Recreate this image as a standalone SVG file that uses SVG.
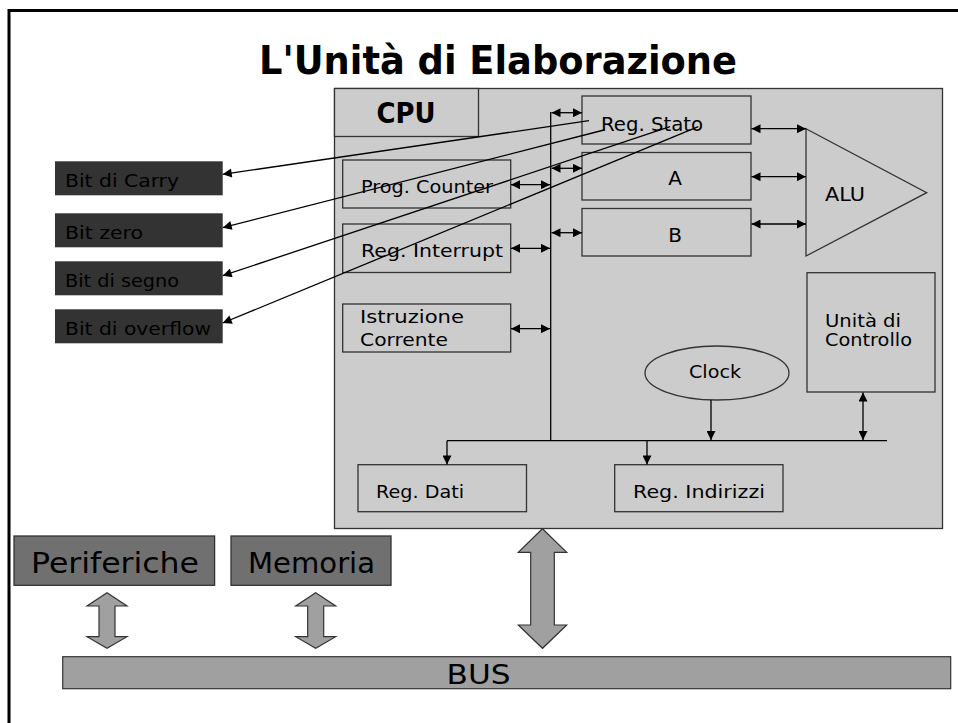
<svg xmlns="http://www.w3.org/2000/svg" width="958" height="723" viewBox="0 0 958 723">
<defs>
<style>
text{font-family:"DejaVu Sans","Liberation Sans",sans-serif;fill:#000;}
.box{fill:#cccccc;stroke:#333;stroke-width:1.3;}
.bit{fill:#333333;stroke:none;}
.ext{fill:#707070;stroke:#333;stroke-width:1.3;}
.big{fill:#a0a0a0;stroke:#333;stroke-width:1.2;}
.ln{stroke:#000;stroke-width:1.3;fill:none;}
.da{marker-start:url(#ah);marker-end:url(#ah);}
.sa{marker-end:url(#ah);}
.t{font-size:18px;}
</style>
<marker id="ah" viewBox="0 0 10 10" refX="10" refY="5" markerWidth="10" markerHeight="9" markerUnits="userSpaceOnUse" orient="auto-start-reverse">
<path d="M0,0 L10,5 L0,10 z" fill="#000"/>
</marker>
</defs>
<rect x="0" y="0" width="958" height="723" fill="#fff"/>
<rect x="9" y="10.5" width="970" height="730" fill="none" stroke="#000" stroke-width="3"/>
<text x="498" y="74" font-size="39" font-weight="bold" text-anchor="middle" textLength="478" lengthAdjust="spacingAndGlyphs">L'Unità di Elaborazione</text>

<g id="cpu">
<rect x="334.5" y="88.5" width="608" height="440" class="box"/>
<rect x="334.5" y="88.5" width="144" height="48" class="box"/>
<text x="406" y="123" font-size="28" font-weight="bold" text-anchor="middle" textLength="59" lengthAdjust="spacingAndGlyphs">CPU</text>
</g>

<g id="reg-stato"><rect x="582" y="96" width="169" height="48" class="box"/>
<text x="601" y="131" font-size="20" textLength="102" lengthAdjust="spacingAndGlyphs">Reg. Stato</text></g>
<g id="reg-a"><rect x="582" y="152.5" width="169" height="47.5" class="box"/>
<text x="675" y="185" font-size="20" text-anchor="middle">A</text></g>
<g id="reg-b"><rect x="582" y="208.5" width="169" height="47.5" class="box"/>
<text x="675" y="242" font-size="20" text-anchor="middle">B</text></g>
<g id="alu"><polygon points="806,128.7 926.7,192.7 806,256" class="box"/>
<text x="825" y="201" font-size="20" textLength="40" lengthAdjust="spacingAndGlyphs">ALU</text></g>
<g id="prog-counter"><rect x="342.7" y="160" width="168" height="48" class="box"/>
<text x="361" y="193" class="t" textLength="132" lengthAdjust="spacingAndGlyphs">Prog. Counter</text></g>
<g id="reg-interrupt"><rect x="342.7" y="224" width="168" height="48.5" class="box"/>
<text x="361" y="257" class="t" textLength="142" lengthAdjust="spacingAndGlyphs">Reg. Interrupt</text></g>
<g id="istruzione"><rect x="342.7" y="304" width="168" height="48" class="box"/>
<text x="360" y="323" class="t" textLength="104" lengthAdjust="spacingAndGlyphs">Istruzione</text>
<text x="360" y="346" class="t" textLength="88" lengthAdjust="spacingAndGlyphs">Corrente</text></g>
<g id="controllo"><rect x="807" y="272.7" width="128" height="119.3" class="box"/>
<text x="825" y="327" class="t" textLength="76" lengthAdjust="spacingAndGlyphs">Unità di</text>
<text x="825" y="346" class="t" textLength="87" lengthAdjust="spacingAndGlyphs">Controllo</text></g>
<g id="clock"><ellipse cx="717" cy="373" rx="72" ry="27" class="box"/>
<text x="689" y="378" class="t" textLength="52" lengthAdjust="spacingAndGlyphs">Clock</text></g>
<g id="reg-dati"><rect x="358" y="464.7" width="168.5" height="47" class="box"/>
<text x="376" y="498" class="t" textLength="88" lengthAdjust="spacingAndGlyphs">Reg. Dati</text></g>
<g id="reg-indirizzi"><rect x="614.7" y="464.7" width="168.3" height="47" class="box"/>
<text x="633" y="498" class="t" textLength="132" lengthAdjust="spacingAndGlyphs">Reg. Indirizzi</text></g>

<g id="bit-carry"><rect x="55" y="161.3" width="167.7" height="34" class="bit"/>
<text x="65" y="186.5" class="t" textLength="114" lengthAdjust="spacingAndGlyphs">Bit di Carry</text></g>
<g id="bit-zero"><rect x="55" y="213.3" width="167.7" height="34" class="bit"/>
<text x="65" y="238.5" class="t" textLength="78" lengthAdjust="spacingAndGlyphs">Bit zero</text></g>
<g id="bit-segno"><rect x="55" y="261.3" width="167.7" height="34" class="bit"/>
<text x="65" y="286.5" class="t" textLength="114" lengthAdjust="spacingAndGlyphs">Bit di segno</text></g>
<g id="bit-overflow"><rect x="55" y="309.3" width="167.7" height="34" class="bit"/>
<text x="65" y="334.5" class="t" textLength="146" lengthAdjust="spacingAndGlyphs">Bit di overflow</text></g>

<g id="periferiche"><rect x="14" y="536" width="200.6" height="49.3" class="ext"/>
<text x="31" y="573" font-size="29" textLength="168" lengthAdjust="spacingAndGlyphs">Periferiche</text></g>
<g id="memoria"><rect x="231" y="536" width="160" height="49.3" class="ext"/>
<text x="248" y="573" font-size="29" textLength="127" lengthAdjust="spacingAndGlyphs">Memoria</text></g>
<g id="bus"><rect x="62.7" y="656.7" width="888" height="32" class="big"/>
<text x="478.5" y="684" font-size="27" text-anchor="middle" textLength="64" lengthAdjust="spacingAndGlyphs">BUS</text></g>

<g id="connectors">
<line x1="550.7" y1="112" x2="550.7" y2="440.7" class="ln"/>
<line x1="447" y1="440.7" x2="887" y2="440.7" class="ln"/>
<line x1="551.5" y1="112.7" x2="582" y2="112.7" class="ln da"/>
<line x1="551.5" y1="168.3" x2="582" y2="168.3" class="ln da"/>
<line x1="551.5" y1="232.7" x2="582" y2="232.7" class="ln da"/>
<line x1="511" y1="184.7" x2="550" y2="184.7" class="ln da"/>
<line x1="511" y1="248.3" x2="550" y2="248.3" class="ln da"/>
<line x1="511" y1="328.7" x2="550" y2="328.7" class="ln da"/>
<line x1="751.5" y1="128.7" x2="806" y2="128.7" class="ln da"/>
<line x1="751.5" y1="176.7" x2="806" y2="176.7" class="ln da"/>
<line x1="751.5" y1="224" x2="806" y2="224" class="ln da"/>
<line x1="711" y1="400" x2="711" y2="440" class="ln sa"/>
<line x1="863" y1="392.5" x2="863" y2="440" class="ln da"/>
<line x1="447" y1="440.7" x2="447" y2="464.5" class="ln sa"/>
<line x1="647" y1="440.7" x2="647" y2="464.5" class="ln sa"/>
<line x1="589" y1="120.7" x2="222.7" y2="174.3" class="ln sa"/>
<line x1="604" y1="130" x2="222.7" y2="227.7" class="ln sa"/>
<line x1="670" y1="126.7" x2="222.7" y2="275.7" class="ln sa"/>
<line x1="698.3" y1="126.7" x2="222.7" y2="323" class="ln sa"/>
<polygon points="542.5,528.7 566.7,552.3 554.3,552.3 554.3,625 566.7,625 542.5,648.3 518.3,625 530.7,625 530.7,552.3 518.3,552.3" class="big"/>
<polygon points="107,592.7 127,606 115,606 115,636.7 127,636.7 107,648.3 87,636.7 99,636.7 99,606 87,606" class="big"/>
<polygon points="315.7,592.7 335.7,606 323.7,606 323.7,636.7 335.7,636.7 315.7,648.3 295.7,636.7 307.7,636.7 307.7,606 295.7,606" class="big"/>
</g>
</svg>
